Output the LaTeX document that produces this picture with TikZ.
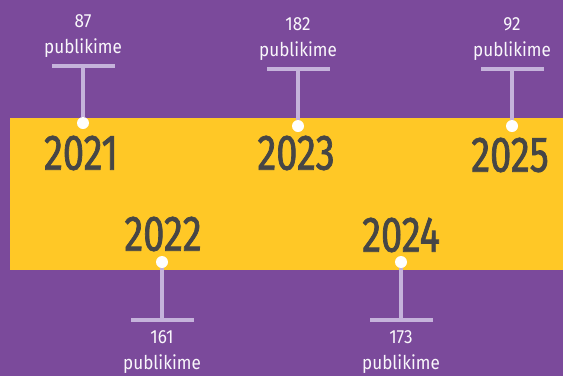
\documentclass[tikz,border=0pt]{standalone}
\usepackage{fontspec}
\setmainfont{Fira Sans}[FakeStretch=0.9]
\newfontfamily\yearfont{Fira Sans}[FakeStretch=0.76, FakeBold=1.4]
\definecolor{tlpurple}{HTML}{7B4A9B}
\definecolor{tlyellow}{HTML}{FFC826}
\definecolor{tllilac}{HTML}{C5B3DB}
\definecolor{tlgray}{HTML}{464646}
\usetikzlibrary{positioning}

\begin{document}
\begin{tikzpicture}[x=1pt, y=-1pt,
  bar/.style={fill=tllilac, inner sep=0pt, minimum width=63pt, minimum height=4pt},
  dot/.style={circle, fill=white, inner sep=0pt, minimum size=12pt},
  stem/.style={draw=tllilac, line width=4pt},
  year/.style={font=\yearfont\fontsize{50}{50}\selectfont, text=tlgray},
  count/.style={font=\fontsize{19}{26}\selectfont, text=white!90!tllilac, align=center, inner sep=0pt}
]
  \useasboundingbox (0,0) rectangle (563,376);
  \fill[tlpurple] (0,0) rectangle (563,376);
  \fill[tlyellow] (10,118) rectangle (563,270);

  % upper pins
  \node[bar] (b21) at (83,66) {};
  \node[bar] (b23) at (298,69) {};
  \node[bar] (b25) at (512,69) {};
  \node[dot] (d21) at (83,123) {};
  \node[dot] (d23) at (298,126) {};
  \node[dot] (d25) at (512,126) {};
  \draw[stem] (b21) -- (d21);
  \draw[stem] (b23) -- (d23);
  \draw[stem] (b25) -- (d25);
  \node[count, above=6pt of b21] (c21) {87\\publikime};
  \node[count, above=6pt of b23] (c23) {182\\publikime};
  \node[count, above=6pt of b25] (c25) {92\\publikime};

  % lower pins
  \node[bar] (b22) at (162,320) {};
  \node[bar] (b24) at (401,320) {};
  \node[dot] (d22) at (162,262) {};
  \node[dot] (d24) at (401,262) {};
  \draw[stem] (b22) -- (d22);
  \draw[stem] (b24) -- (d24);
  \node[count, below=8pt of b22] (c22) {161\\publikime};
  \node[count, below=8pt of b24] (c24) {173\\publikime};

  % years
  \node[year] (y21) at (81,153) {2021};
  \node[year] (y22) at (163,234) {2022};
  \node[year] (y23) at (296,153) {2023};
  \node[year] (y24) at (401,235) {2024};
  \node[year] (y25) at (510,155) {2025};
\end{tikzpicture}
\end{document}
